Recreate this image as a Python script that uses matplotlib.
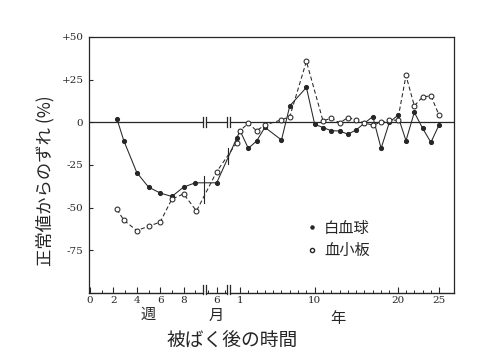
import numpy as np
import matplotlib
matplotlib.use("Agg")
import matplotlib.pyplot as plt
from matplotlib.lines import Line2D
import matplotlib.transforms as mtrans

JP = ["Noto Sans CJK JP", "DejaVu Sans"]
NUM = "DejaVu Serif"
INK = "#262626"

# --- data (% deviation from normal) ---
# weeks after exposure
wbc_weeks = [2.3, 2.9, 4, 5, 6, 7, 8, 9]
wbc_week_vals = [2, -11, -29.5, -38, -41.5, -43.5, -38, -35.5]
plt_weeks = [2.3, 2.9, 4, 5, 6, 7, 8, 9.1]
plt_week_vals = [-51, -57.5, -63.5, -61, -58.5, -45, -42, -52]
# months after exposure
wbc_months = [6]
wbc_month_vals = [-35.5]
plt_months = [6]
plt_month_vals = [-29]
# years after exposure
wbc_years = [0.6, 1, 2, 3, 4, 6, 7, 9, 10, 11, 12, 13, 14, 15, 16, 17, 18,
             19, 20, 21, 22, 23, 24, 25]
wbc_year_vals = [-9.4, -4.9, -15.3, -11, -3, -10.4, 9.6, 20.4, -1.2, -3.1,
                 -5, -5.1, -7, -4.5, -0.5, 3.3, -15.3, 0, 4, -10.8, 5.8,
                 -3.5, -11.8, -1.4]
plt_years = [0.6, 1, 2, 3, 4, 6, 7, 9, 11, 12, 13, 14, 15, 16, 17, 18, 19,
             20, 21, 22, 23, 24, 25]
plt_year_vals = [-12, -5, -0.6, -5, -1.6, 1.4, 3.3, 35.7, 0.8, 2.4, -0.4,
                 2.7, 1.4, -0.6, -1.6, -0.1, 1.2, 1.2, 27.4, 9.6, 14.8,
                 15.5, 4]

yticks = [50, 25, 0, -25, -50, -75]
ytick_labels = ["+50", "+25", "0", "-25", "-50", "-75"]


# broken time axis: weeks | months | years, mapped onto one axis
def wk(w):
    return 90 + 11.7 * np.asarray(w, dtype=float)


def mo(m):
    return 216.7 + 8.3 * (np.asarray(m, dtype=float) - 6)


def yr(y):
    return 231.7 + 8.3 * np.asarray(y, dtype=float)


XMIN, XMAX = 89, 454
BREAKS = [(202.5, 205.5), (226.5, 229.5)]

wbc_x = np.concatenate([wk(wbc_weeks), mo(wbc_months), yr(wbc_years)])
wbc_y = np.array(wbc_week_vals + wbc_month_vals + wbc_year_vals)
plt_x = np.concatenate([wk(plt_weeks), mo(plt_months), yr(plt_years)])
plt_y = np.array(plt_week_vals + plt_month_vals + plt_year_vals)

fig = plt.figure(figsize=(5, 3.62), dpi=100)
ax = fig.add_axes([0.178, 0.191, 0.73, 0.707])
ax.set_xlim(XMIN, XMAX)
ax.set_ylim(-100, 50)

# zero line, broken at the axis breaks
edges = [XMIN] + [v for b in BREAKS for v in b] + [XMAX]
for a, b in zip(edges[::2], edges[1::2]):
    ax.plot([a, b], [0, 0], color=INK, lw=0.9, zorder=1)
for b in BREAKS:
    for v in b:
        ax.plot([v, v], [-3, 3], color=INK, lw=0.9, zorder=1)

# series
ax.plot(wbc_x, wbc_y, color=INK, lw=0.75, marker="o", ms=2.7,
        mfc=INK, mec=INK, zorder=3)
ax.plot(plt_x, plt_y, color=INK, lw=0.75, ls=(0, (4, 2.5)), marker="o",
        ms=3.5, mfc="white", mec=INK, mew=0.75, zorder=4)

# break marks on the data lines
for xs, ys in [(wbc_x, wbc_y), (plt_x, plt_y)]:
    for b in BREAKS:
        c = 0.5 * (b[0] + b[1])
        yc = np.interp(c, xs, ys)
        ax.plot([c, c], [yc - 4, yc + 4], color=INK, lw=0.8, zorder=2)

# frame: bottom spine broken by hand
for s in ["top", "left", "right"]:
    ax.spines[s].set_color(INK)
    ax.spines[s].set_linewidth(0.9)
ax.spines["bottom"].set_visible(False)
btrans = mtrans.blended_transform_factory(ax.transData, ax.transAxes)
for a, b in zip(edges[::2], edges[1::2]):
    ax.plot([a, b], [0, 0], color=INK, lw=1.0, transform=btrans,
            clip_on=False)
for b in BREAKS:
    for v in b:
        ax.plot([v, v], [-0.005, 0.03], color=INK, lw=0.9, transform=btrans,
                clip_on=False)

# x ticks
major_pos = list(wk([0, 2, 4, 6, 8])) + list(mo([6])) + list(yr([1, 10, 20, 25]))
major_lab = ["0", "2", "4", "6", "8", "6", "1", "10", "20", "25"]
minor_pos = list(wk([1, 3, 5, 7, 9])) + list(mo([5, 7])) + \
    list(yr([y for y in range(2, 25) if y not in (10, 20)]))
ax.set_xticks(major_pos)
ax.set_xticklabels(major_lab, family=NUM, fontsize=7.5, color=INK)
ax.set_xticks(minor_pos, minor=True)
ax.tick_params(axis="x", which="major", direction="in", length=4,
               width=0.8, pad=2, color=INK)
ax.tick_params(axis="x", which="minor", direction="in", length=2.5,
               width=0.7, color=INK)

ax.set_yticks(yticks)
ax.set_yticklabels(ytick_labels, family=NUM, fontsize=7.5, color=INK)
ax.tick_params(axis="y", direction="in", length=3, width=0.8, pad=4,
               color=INK)

# unit labels under the axis segments
ax.text(float(wk(5)), -0.082, "週", transform=btrans, ha="center",
        va="center", family=JP, fontsize=11, color=INK)
ax.text(float(mo(6)), -0.09, "月", transform=btrans, ha="center",
        va="center", family=JP, fontsize=11, color=INK)
ax.text(float(yr(12.8)), -0.1, "年", transform=btrans, ha="center",
        va="center", family=JP, fontsize=11, color=INK)

fig.text(0.465, 0.058, "被ばく後の時間", ha="center", va="center",
         family=JP, fontsize=13.5, color=INK)
fig.text(0.09, 0.50, "正常値からのずれ (%)", ha="center", va="center",
         rotation=90, family=JP, fontsize=12.5, color=INK)

handles = [
    Line2D([], [], ls="none", marker="o", ms=2.2, mfc=INK, mec=INK),
    Line2D([], [], ls="none", marker="o", ms=3, mfc="white", mec=INK),
]
leg = ax.legend(handles, ["白血球", "血小板"], loc="upper left",
                bbox_to_anchor=(0.56, 0.34), frameon=False,
                prop={"family": JP, "size": 11}, handlelength=0.6,
                handletextpad=0.5, labelspacing=0.35)
for t in leg.get_texts():
    t.set_color(INK)

fig.savefig("out.png", dpi=100, facecolor="white")
